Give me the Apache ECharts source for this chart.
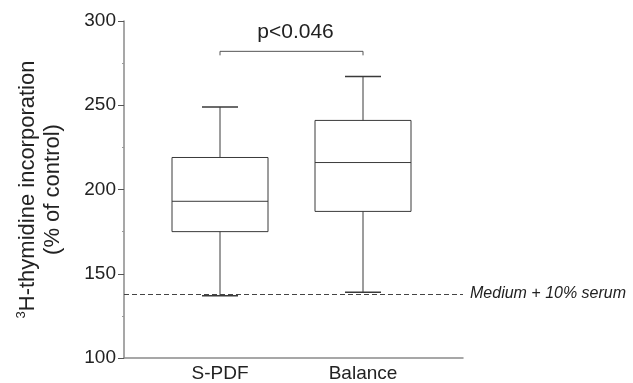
<!DOCTYPE html>
<html>
<head>
<meta charset="utf-8">
<script src="https://cdn.jsdelivr.net/npm/echarts@6/dist/echarts.min.js"></script>
<style>
html,body{margin:0;padding:0;background:#fff;}
#chart{width:633px;height:383px;}
</style>
</head>
<body>
<div id="chart"></div>
<script>
var categories = ['S-PDF', 'Balance'];
var mins    = [137, 139];
var q1s     = [175, 187];
var medians = [193, 216];
var q3s     = [219, 241];
var maxs    = [249, 267];
var referenceValue = 138;
var referenceLabel = 'Medium + 10% serum';
var sigLevel = 282;
var sigLabel = 'p<0.046';
var yTicks = [100, 150, 200, 250, 300];

var FONT = '"Liberation Sans", Arial, sans-serif';
var LINE = '#3a3a3a';

var boxData = categories.map(function (c, i) {
  return [i, mins[i], q1s[i], medians[i], q3s[i], maxs[i]];
});

var chart = echarts.init(document.getElementById('chart'));
chart.setOption({
  animation: false,
  backgroundColor: '#fff',
  grid: [
    { left: 124, width: 339, top: 21, height: 337 },
    { left: 148.5, width: 286, top: 21, height: 337 }
  ],
  xAxis: [
    { type: 'value', gridIndex: 0, min: 0, max: 1,
      axisLine: { show: true, lineStyle: { color: '#8a8a8a', width: 1.5 } },
      axisTick: { show: false }, axisLabel: { show: false }, splitLine: { show: false } },
    { type: 'category', gridIndex: 1, data: categories,
      axisLine: { show: false }, axisTick: { show: false }, splitLine: { show: false },
      axisLabel: { color: '#222', fontSize: 19, fontFamily: FONT, margin: 6 } }
  ],
  yAxis: [
    { type: 'value', gridIndex: 0, min: yTicks[0], max: yTicks[yTicks.length - 1], interval: 50,
      name: '{sup|3}H-thymidine incorporation\n(% of control)',
      nameLocation: 'middle', nameGap: 59, nameRotate: 90,
      nameTextStyle: { color: '#222', fontSize: 22, fontFamily: FONT, lineHeight: 25,
        rich: { sup: { fontSize: 13, verticalAlign: 'top', color: '#222', fontFamily: FONT, padding: [0, 0, 9, 0] } } },
      axisLine: { show: true, lineStyle: { color: '#8a8a8a', width: 1.5 } },
      axisTick: { show: true, length: 6, lineStyle: { color: '#555' } },
      minorTick: { show: true, splitNumber: 2, length: 2, lineStyle: { color: '#999' } },
      axisLabel: { color: '#222', fontSize: 19, fontFamily: FONT, margin: 8 },
      splitLine: { show: false } },
    { type: 'value', gridIndex: 1, min: yTicks[0], max: yTicks[yTicks.length - 1], show: false }
  ],
  series: [
    {
      type: 'line', xAxisIndex: 0, yAxisIndex: 0, data: [], silent: true,
      markLine: {
        symbol: 'none', silent: true,
        lineStyle: { type: [5, 3], color: '#444', width: 1 },
        label: { show: true, position: 'end', distance: 7, formatter: referenceLabel,
          color: '#222', fontSize: 16, fontStyle: 'italic', fontFamily: FONT },
        data: [{ yAxis: referenceValue }]
      }
    },
    {
      type: 'custom', xAxisIndex: 1, yAxisIndex: 1, data: boxData,
      renderItem: function (params, api) {
        var x = api.value(0);
        var pMin = api.coord([x, api.value(1)]);
        var pQ1 = api.coord([x, api.value(2)]);
        var pMed = api.coord([x, api.value(3)]);
        var pQ3 = api.coord([x, api.value(4)]);
        var pMax = api.coord([x, api.value(5)]);
        var cx = pMed[0];
        var hw = 48, cw = 18;
        var st = { stroke: LINE, lineWidth: 1, fill: null };
        return { type: 'group', children: [
          { type: 'rect', shape: { x: cx - hw, y: pQ3[1], width: 2 * hw, height: pQ1[1] - pQ3[1] }, style: { stroke: LINE, lineWidth: 1, fill: '#fff' } },
          { type: 'line', shape: { x1: cx - hw, y1: pMed[1], x2: cx + hw, y2: pMed[1] }, style: st },
          { type: 'line', shape: { x1: cx, y1: pQ3[1], x2: cx, y2: pMax[1] }, style: st },
          { type: 'line', shape: { x1: cx, y1: pQ1[1], x2: cx, y2: pMin[1] }, style: st },
          { type: 'line', shape: { x1: cx - cw, y1: pMax[1], x2: cx + cw, y2: pMax[1] }, style: { stroke: LINE, lineWidth: 1.5 } },
          { type: 'line', shape: { x1: cx - cw, y1: pMin[1], x2: cx + cw, y2: pMin[1] }, style: { stroke: LINE, lineWidth: 1.5 } }
        ] };
      }
    },
    {
      type: 'custom', xAxisIndex: 1, yAxisIndex: 1, data: [[0, 1, sigLevel]],
      renderItem: function (params, api) {
        var a = api.coord([api.value(0), api.value(2)]);
        var b = api.coord([api.value(1), api.value(2)]);
        return { type: 'group', children: [
          { type: 'polyline', shape: { points: [[a[0], a[1] + 4], [a[0], a[1]], [b[0], b[1]], [b[0], b[1] + 4]] },
            style: { stroke: '#555', lineWidth: 1, fill: null } },
          { type: 'text', x: (a[0] + b[0]) / 2 + 4, y: a[1] - 9,
            style: { text: sigLabel, fill: '#222', fontSize: 21, fontFamily: FONT, align: 'center', verticalAlign: 'bottom' } }
        ] };
      }
    }
  ]
});
</script>
</body>
</html>
